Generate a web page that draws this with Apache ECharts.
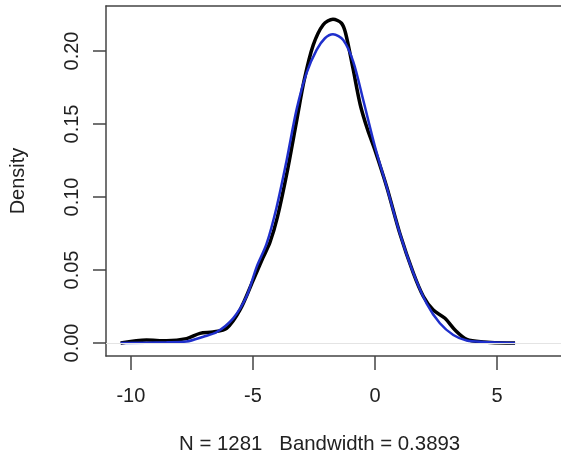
<!DOCTYPE html>
<html>
<head>
<meta charset="utf-8">
<script src="https://cdn.jsdelivr.net/npm/echarts@6/dist/echarts.min.js"></script>
<style>
  html, body { margin: 0; padding: 0; background: #fff; overflow: hidden; }
  #chart { width: 561px; height: 468px; }
</style>
</head>
<body>
<div id="chart"></div>
<script>
// kernel density estimate (black)
const kdeX = [-10.42, -9.36, -8.54, -7.72, -7.17, -6.63, -6.08, -5.53, -4.99, -4.6, -4.3, -4.0, -3.6, -3.2, -2.9, -2.53, -2.12, -1.72, -1.37, -1.2, -0.9, -0.6, -0.3, 0, 0.48, 1.02, 1.57, 1.98, 2.39, 2.87, 3.28, 3.76, 4.44, 5.4, 5.74]
const kdeY = [0, 0.002, 0.0016, 0.003, 0.0066, 0.0075, 0.010, 0.0226, 0.043, 0.058, 0.069, 0.086, 0.117, 0.153, 0.180, 0.204, 0.218, 0.2217, 0.219, 0.212, 0.188, 0.163, 0.146, 0.132, 0.107, 0.075, 0.048, 0.032, 0.0226, 0.0169, 0.0089, 0.0025, 0.0007, 0, 0]

// fitted curve (blue)
const fitX = [-10.42, -8.54, -7.72, -7.03, -6.48, -5.81, -5.26, -4.85, -4.44, -4.03, -3.62, -3.21, -2.80, -2.39, -2.05, -1.72, -1.30, -0.89, -0.48, 0, 0.48, 1.02, 1.57, 2.12, 2.66, 3.21, 3.76, 4.44, 5.74]
const fitY = [0, 0.0005, 0.001, 0.0043, 0.0075, 0.0169, 0.032, 0.052, 0.068, 0.093, 0.125, 0.160, 0.185, 0.2007, 0.2087, 0.2114, 0.2075, 0.1927, 0.1664, 0.1345, 0.107, 0.075, 0.048, 0.027, 0.0135, 0.0055, 0.0017, 0.0007, 0]

const xTicks = [-10, -5, 0, 5]
const yTicks = [0, 0.05, 0.1, 0.15, 0.2]
const subtitle = 'N = 1281   Bandwidth = 0.3893'

const font = 'Liberation Sans, Arial, sans-serif'
const ink = '#222'
const frame = { color: '#444', width: 1.5 }

const chart = echarts.init(document.getElementById('chart'))

chart.setOption({
  animation: false,
  backgroundColor: '#fff',
  title: {
    text: subtitle,
    left: 174,
    top: 429,
    textStyle: { fontFamily: font, fontSize: 20.4, fontWeight: 'normal', color: ink }
  },
  grid: {
    left: 106,
    top: 6,
    bottom: 112,
    right: -100,
    outerBoundsMode: 'none',
    containLabel: false,
    show: false
  },
  xAxis: [
    {
      type: 'value',
      position: 'bottom',
      min: -11.02,
      max: 11.72,
      axisLine: { show: true, onZero: false, lineStyle: frame },
      splitLine: { show: false },
      axisTick: {
        show: true,
        length: 14,
        customValues: xTicks,
        lineStyle: frame
      },
      axisLabel: {
        customValues: xTicks,
        margin: 30,
        fontFamily: font,
        fontSize: 20,
        color: ink
      }
    },
    {
      // top edge of the frame
      type: 'value',
      position: 'top',
      min: -11.02,
      max: 11.72,
      axisLine: { show: true, onZero: false, lineStyle: frame },
      axisTick: { show: false },
      axisLabel: { show: false },
      splitLine: { show: false }
    }
  ],
  yAxis: {
    type: 'value',
    min: -0.0089,
    max: 0.2308,
    name: 'Density',
    nameLocation: 'middle',
    nameGap: 78,
    nameTextStyle: { fontFamily: font, fontSize: 20, color: ink },
    axisLine: { show: true, onZero: false, lineStyle: frame },
    splitLine: { show: false },
    axisTick: {
      show: true,
      length: 13,
      customValues: yTicks,
      lineStyle: frame
    },
    axisLabel: {
      customValues: yTicks,
      rotate: 90,
      margin: 24,
      fontFamily: font,
      fontSize: 20,
      color: ink,
      formatter: v => v.toFixed(2)
    }
  },
  series: [
    {
      type: 'line',
      data: kdeX.map((x, i) => [x, kdeY[i]]),
      showSymbol: false,
      smooth: 0.3,
      lineStyle: { color: '#000', width: 3.5 },
      z: 2,
      markLine: {
        silent: true,
        symbol: 'none',
        label: { show: false },
        lineStyle: { color: '#e4e4e4', width: 1, type: 'solid' },
        data: [{ yAxis: 0 }]
      }
    },
    {
      type: 'line',
      data: fitX.map((x, i) => [x, fitY[i]]),
      showSymbol: false,
      smooth: 0.3,
      lineStyle: { color: '#1f2fcc', width: 2.5 },
      z: 3
    }
  ]
})
</script>
</body>
</html>
